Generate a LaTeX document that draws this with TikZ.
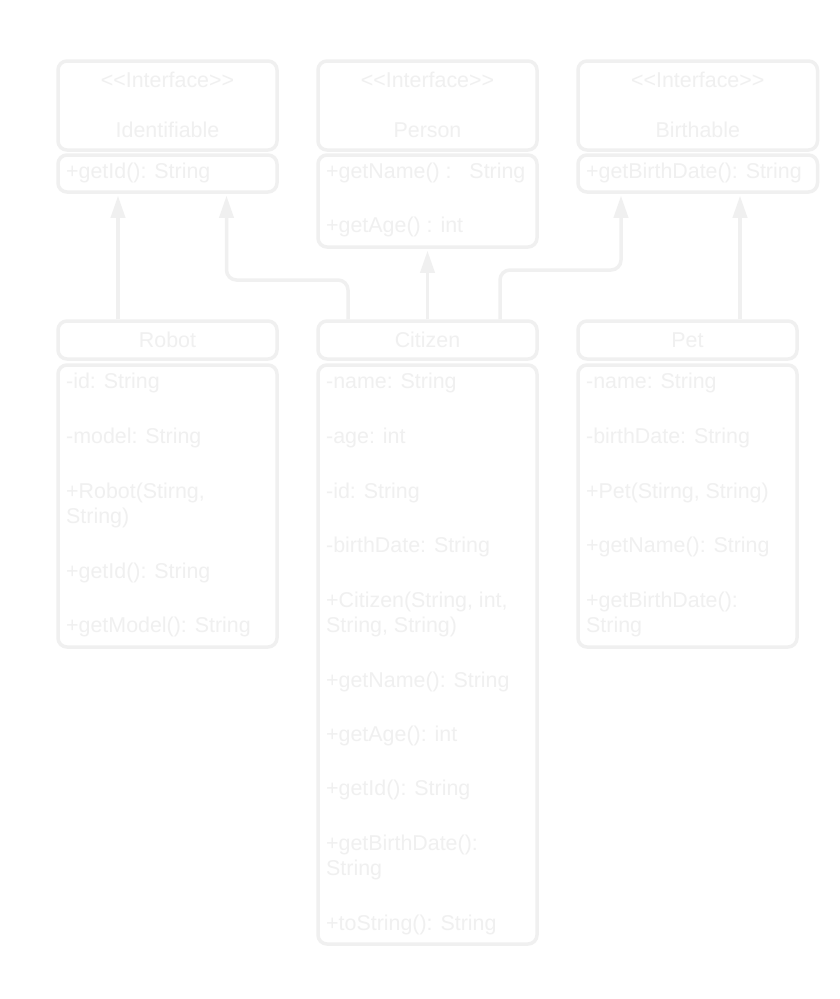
\documentclass[tikz,border=0pt]{standalone}
\usepackage{fontspec}
\setmainfont{Liberation Sans}
\usetikzlibrary{arrows.meta,calc}
\definecolor{pale}{HTML}{F0F0F0}
\begin{document}
\begin{tikzpicture}[x=1pt,y=-1pt,
  box/.style={draw=pale,line width=3.5pt,rounded corners=9pt,inner sep=0pt,minimum width=219pt},
  txt/.style={text=pale,inner sep=0pt,font=\fontsize{21.4}{26}\selectfont},
  lt/.style={txt,anchor=base west},
  ct/.style={txt,anchor=base},
  conn/.style={draw=pale,line width=3.5pt,rounded corners=10pt,shorten >=2pt,
    -{Triangle[length=22pt,width=14pt]}}]
\fill[white] (0,0) rectangle (840,999);
\useasboundingbox (0,0) rectangle (840,999);
% interface boxes
\node[box,minimum height=89pt] (identH) at (167.5,105.5) {};
\node[box,minimum height=37pt] (identM) at (167.5,173.5) {};
\node[box,minimum height=89pt] (personH) at (427.5,105.5) {};
\node[box,minimum height=92pt] (personM) at (427.5,201) {};
\node[box,minimum width=239.5pt,minimum height=89pt] (birthH) at (697.75,105.5) {};
\node[box,minimum width=239.5pt,minimum height=37pt] (birthM) at (697.75,173.5) {};
% class boxes
\node[box,minimum height=38pt] (robotH) at (167.5,340) {};
\node[box,minimum height=282pt] (robotB) at (167.5,506) {};
\node[box,minimum height=38pt] (citH) at (427.5,340) {};
\node[box,minimum height=579pt] (citB) at (427.5,654.5) {};
\node[box,minimum height=38pt] (petH) at (687.5,340) {};
\node[box,minimum height=282pt] (petB) at (687.5,506) {};
% interface texts
\node[ct] (iS) at (167.5,87) {{<}{<}Interface{>}{>}};
\node[ct] (iN) at (167.5,137) {Identifiable};
\node[lt] (i1) at (66,178) {+getId(): String};
\node[ct] (pS) at (427.5,87) {{<}{<}Interface{>}{>}};
\node[ct] (pN) at (427.5,137) {Person};
\node[lt] (p1) at (326,178) {+getName() :\ \ \ String};
\node[lt] (p2) at (326,232) {+getAge() : int};
\node[ct] (bS) at (697.75,87) {{<}{<}Interface{>}{>}};
\node[ct] (bN) at (697.75,137) {Birthable};
\node[lt] (b1) at (586,178) {+getBirthDate(): String};
% class headers
\node[ct] (rN) at (167.5,347) {Robot};
\node[ct] (cN) at (427.5,347) {Citizen};
\node[ct] (tN) at (687.5,347) {Pet};
% robot
\node[lt] (r1) at (66,388) {-id: String};
\node[lt] (r2) at (66,443) {-model: String};
\node[lt] (r3) at (66,498) {+Robot(Stirng,};
\node[lt] (r3b) at (66,523) {String)};
\node[lt] (r4) at (66,578) {+getId(): String};
\node[lt] (r5) at (66,632) {+getModel(): String};
% citizen
\node[lt] (c1) at (326,388) {-name: String};
\node[lt] (c2) at (326,443) {-age: int};
\node[lt] (c3) at (326,498) {-id: String};
\node[lt] (c4) at (326,552) {-birthDate: String};
\node[lt] (c5) at (326,607) {+Citizen(String, int,};
\node[lt] (c5b) at (326,632) {String, String)};
\node[lt] (c6) at (326,687) {+getName(): String};
\node[lt] (c7) at (326,741) {+getAge(): int};
\node[lt] (c8) at (326,795) {+getId(): String};
\node[lt] (c9) at (326,850) {+getBirthDate():};
\node[lt] (c9b) at (326,875) {String};
\node[lt] (c10) at (326,930) {+toString(): String};
% pet
\node[lt] (t1) at (586,388) {-name: String};
\node[lt] (t2) at (586,443) {-birthDate: String};
\node[lt] (t3) at (586,498) {+Pet(Stirng, String)};
\node[lt] (t4) at (586,552) {+getName(): String};
\node[lt] (t5) at (586,607) {+getBirthDate():};
\node[lt] (t5b) at (586,632) {String};
% connectors
\coordinate (k2) at (226.5,280);
\coordinate (k4) at (621,270);
\draw[conn] ([xshift=-49.5pt]robotH.north) -- ([xshift=-49.5pt]identM.south);
\draw[conn] ([xshift=-79.5pt]citH.north) |- (k2) -- ([xshift=59pt]identM.south);
\draw[conn] (citH.north) -- (personM.south);
\draw[conn] ([xshift=72.5pt]citH.north) |- (k4) -- ([xshift=-76.75pt]birthM.south);
\draw[conn] ([xshift=52.5pt]petH.north) -- ([xshift=42.25pt]birthM.south);
\end{tikzpicture}
\end{document}
